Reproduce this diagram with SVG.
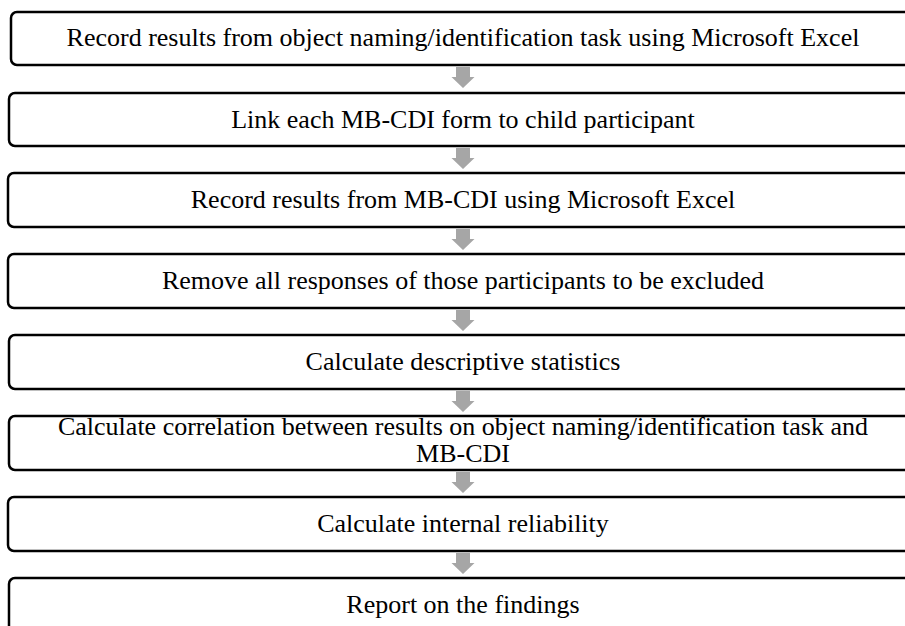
<svg xmlns="http://www.w3.org/2000/svg" width="905" height="626" viewBox="0 0 905 626">
<style>
.box{fill:#fff;stroke:#000;stroke-width:2.5}
.t{font-family:"Liberation Serif","Times New Roman",serif;font-size:26px;fill:#000;text-anchor:middle}
.arr{fill:#a6a6a6}
</style>
<defs>
<path id="dn" class="arr" d="M-7,0 H7 V10 H11.5 L0,21 L-11.5,10 H-7 Z"/>
</defs>
<rect x="0" y="0" width="905" height="626" fill="#fff"/>
<g id="connectors">
<use href="#dn" x="463" y="67"/>
<use href="#dn" x="463" y="148"/>
<use href="#dn" x="463" y="229"/>
<use href="#dn" x="463" y="310"/>
<use href="#dn" x="463" y="391"/>
<use href="#dn" x="463" y="472"/>
<use href="#dn" x="463" y="553"/>
</g>
<g id="n1"><rect class="box" x="11" y="12" width="910" height="53" rx="6"/><text class="t" x="463" y="46">Record results from object naming/identification task using Microsoft Excel</text></g>
<g id="n2"><rect class="box" x="9" y="93" width="912" height="53" rx="6"/><text class="t" x="463" y="128">Link each MB-CDI form to child participant</text></g>
<g id="n3"><rect class="box" x="8" y="173" width="913" height="54" rx="6"/><text class="t" x="463" y="208">Record results from MB-CDI using Microsoft Excel</text></g>
<g id="n4"><rect class="box" x="8" y="254" width="913" height="54" rx="6"/><text class="t" x="463" y="289">Remove all responses of those participants to be excluded</text></g>
<g id="n5"><rect class="box" x="9" y="335" width="912" height="54" rx="6"/><text class="t" x="463" y="370">Calculate descriptive statistics</text></g>
<g id="n6"><rect class="box" x="9" y="416" width="912" height="54" rx="6"/><text class="t" x="463" y="435">Calculate correlation between results on object naming/identification task and</text><text class="t" x="463" y="462">MB-CDI</text></g>
<g id="n7"><rect class="box" x="8" y="497" width="913" height="54" rx="6"/><text class="t" x="463" y="532">Calculate internal reliability</text></g>
<g id="n8"><rect class="box" x="9" y="578" width="912" height="60" rx="6"/><text class="t" x="463" y="613">Report on the findings</text></g>
</svg>
